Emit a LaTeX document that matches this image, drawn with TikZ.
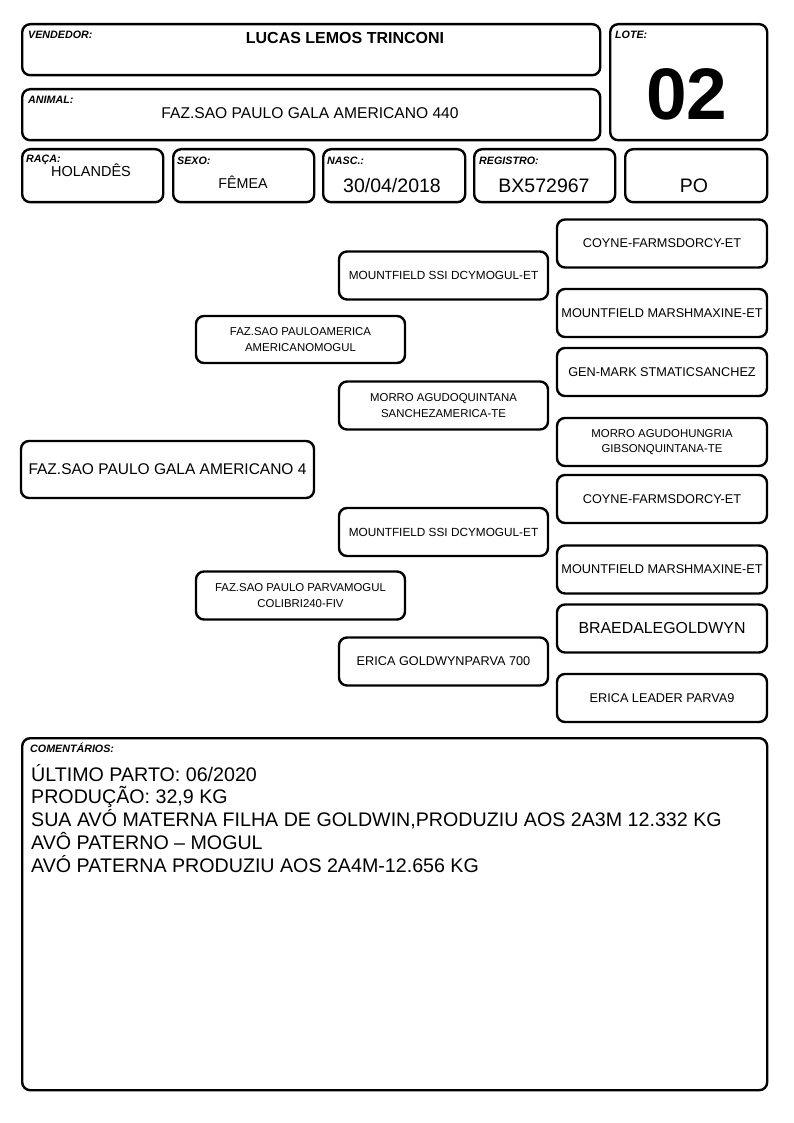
\documentclass[tikz,border=0pt]{standalone}
\usepackage{fontspec}
\setmainfont{Liberation Sans}
\usetikzlibrary{positioning}

\begin{document}
\begin{tikzpicture}[x=1pt,y=-1pt,
    box/.style={draw,line width=2.4pt,rounded corners=8pt,inner sep=1pt,align=center},
    tag/.style={anchor=base west,inner sep=0pt,font=\bfseries\itshape\fontsize{10.7}{12}\selectfont},
    val/.style={anchor=base,inner sep=0pt,font=\fontsize{19.5}{22}\selectfont},
    ped/.style={box,minimum width=209pt,minimum height=48pt,font=\fontsize{12.7}{15.5}\selectfont},
    small/.style={font=\fontsize{11.4}{15.5}\selectfont}]

    \useasboundingbox (0,0) rectangle (794,1123);

    % header
    \node[box,anchor=north west,minimum width=578pt,minimum height=51pt] (vend) at (21,23) {};
    \node[box,anchor=north west,minimum width=578pt,minimum height=51pt] (animal) at (21,88) {};
    \node[box,anchor=north west,minimum width=157pt,minimum height=116pt] (lote) at (609,23) {};
    \node[box,anchor=north west,minimum width=141pt,minimum height=53pt] (raca) at (21,148) {};
    \node[box,anchor=north west,minimum width=141pt,minimum height=53pt] (sexo) at (172,148) {};
    \node[box,anchor=north west,minimum width=142pt,minimum height=53pt] (nasc) at (322,148) {};
    \node[box,anchor=north west,minimum width=141pt,minimum height=53pt] (reg) at (473,148) {};
    \node[box,anchor=north west,minimum width=142pt,minimum height=53pt] (cat) at (624,148) {};

    \node[tag] (tvend) at (28,39) {VENDEDOR:};
    \node[tag] (tanimal) at (28,104) {ANIMAL:};
    \node[tag] (tlote) at (615,39) {LOTE:};
    \node[tag] (traca) at (26,163) {RAÇA:};
    \node[tag] (tsexo) at (177,165) {SEXO:};
    \node[tag] (tnasc) at (327,165) {NASC.:};
    \node[tag] (treg) at (479,165) {REGISTRO:};

    \node[val,font=\bfseries\fontsize{16}{19}\selectfont] (vvend) at (345,44) {LUCAS LEMOS TRINCONI};
    \node[val,font=\fontsize{15.6}{18}\selectfont] (vanimal) at (310,118.5) {FAZ.SAO PAULO GALA AMERICANO 440};
    \node[val,font=\bfseries\fontsize{73}{80}\selectfont] (vlote) at (687,119.5) {02};
    \node[val,font=\fontsize{14.5}{17}\selectfont] (vraca) at (91,177) {HOLANDÊS};
    \node[val,font=\fontsize{14.3}{17}\selectfont] (vsexo) at (243,189) {FÊMEA};
    \node[val] (vnasc) at (392,193) {30/04/2018};
    \node[val] (vreg) at (544,193) {BX572967};
    \node[val] (vcat) at (694,193) {PO};

    % pedigree
    \node[box,minimum width=293pt,minimum height=57pt,font=\fontsize{15.5}{18}\selectfont] (gala) at (167.5,469.5) {FAZ.SAO PAULO GALA AMERICANO 4};

    \node[ped,small,minimum height=47pt] (fazam) at (300.5,339.5) {FAZ.SAO PAULOAMERICA\\AMERICANOMOGUL};
    \node[ped,small] (fazparva) at (300.5,595.5) {FAZ.SAO PAULO PARVAMOGUL\\COLIBRI240-FIV};

    \node[ped,font=\fontsize{11.8}{15}\selectfont] (mssiA) at (443.5,275.5) {MOUNTFIELD SSI DCYMOGUL-ET};
    \node[ped,small] (morroq) at (443.5,405.5) {MORRO AGUDOQUINTANA\\SANCHEZAMERICA-TE};
    \node[ped,font=\fontsize{11.8}{15}\selectfont] (mssiB) at (443.5,532) {MOUNTFIELD SSI DCYMOGUL-ET};
    \node[ped] (ericag) at (443.5,661.5) {ERICA GOLDWYNPARVA 700};

    \node[ped,minimum width=210pt] (coyneA) at (662,243.5) {COYNE-FARMSDORCY-ET};
    \node[ped,minimum width=210pt] (marshA) at (662,313) {MOUNTFIELD MARSHMAXINE-ET};
    \node[ped,minimum width=210pt] (genmark) at (662,372) {GEN-MARK STMATICSANCHEZ};
    \node[ped,small,minimum width=210pt] (morroh) at (662,442) {MORRO AGUDOHUNGRIA\\GIBSONQUINTANA-TE};
    \node[ped,minimum width=210pt] (coyneB) at (662,499) {COYNE-FARMSDORCY-ET};
    \node[ped,minimum width=210pt] (marshB) at (662,569.5) {MOUNTFIELD MARSHMAXINE-ET};
    \node[ped,minimum width=210pt,font=\fontsize{15.9}{18}\selectfont] (braedale) at (662,628.5) {BRAEDALEGOLDWYN};
    \node[ped,minimum width=210pt] (erical) at (662,698) {ERICA LEADER PARVA9};

    % comments
    \node[box,anchor=north west,minimum width=745pt,minimum height=352pt] (coment) at (21,737) {};
    \node[tag] (tcoment) at (30,752) {COMENTÁRIOS:};
    \foreach \txt [count=\i] in {ÚLTIMO PARTO: 06/2020, {PRODUÇÃO: 32,9 KG},
        {SUA AVÓ MATERNA FILHA DE GOLDWIN,PRODUZIU AOS 2A3M 12.332 KG},
        AVÔ PATERNO – MOGUL, AVÓ PATERNA PRODUZIU AOS 2A4M-12.656 KG}
        \node[anchor=base west,inner sep=0pt,font=\fontsize{19.65}{23}\selectfont] (c\i) at (31,781+22.75*\i-22.75) {\txt};
\end{tikzpicture}
\end{document}
